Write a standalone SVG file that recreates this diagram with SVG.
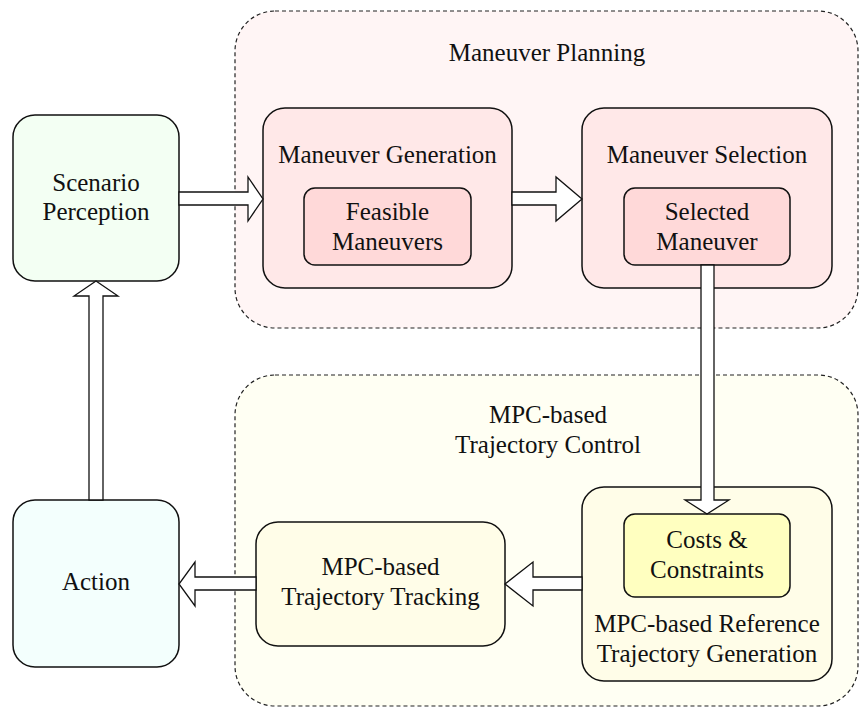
<svg xmlns="http://www.w3.org/2000/svg" width="860" height="708" viewBox="0 0 860 708" font-family="Liberation Serif, serif">
<style>
text{font-family:"Liberation Serif","Times New Roman",serif;font-size:25px;fill:#111;text-anchor:middle}
.grp{stroke:#222;stroke-width:1.2;stroke-dasharray:4,3}
.box{stroke:#111;stroke-width:1.5}
.arr{fill:#fff;stroke:#111;stroke-width:1.3;stroke-linejoin:miter}
</style>
<rect width="860" height="708" fill="#fff"/>
<g id="maneuver-planning">
<rect class="grp" x="235" y="11" width="623" height="317" rx="40" fill="#fff5f5"/>
<text x="547" y="61">Maneuver Planning</text>
</g>
<g id="mpc-control">
<rect class="grp" x="235" y="375" width="623" height="331" rx="40" fill="#fffff3"/>
<text x="548" y="423">MPC-based</text>
<text x="548" y="453">Trajectory Control</text>
</g>
<g id="scenario-perception">
<rect class="box" x="13" y="115" width="166" height="166" rx="22" fill="#f3fff3"/>
<text x="96" y="191">Scenario</text>
<text x="96" y="220">Perception</text>
</g>
<g id="maneuver-generation">
<rect class="box" x="263" y="108" width="249" height="180" rx="22" fill="#ffe8e8"/>
<text x="387.5" y="163">Maneuver Generation</text>
</g>
<g id="feasible-maneuvers">
<rect class="box" x="304" y="188" width="167" height="77" rx="11" fill="#ffd9d9"/>
<text x="387.5" y="220">Feasible</text>
<text x="387.5" y="250">Maneuvers</text>
</g>
<g id="maneuver-selection">
<rect class="box" x="582" y="108" width="250" height="180" rx="22" fill="#ffe8e8"/>
<text x="707" y="163">Maneuver Selection</text>
</g>
<g id="selected-maneuver">
<rect class="box" x="624" y="188" width="166" height="77" rx="11" fill="#ffd9d9"/>
<text x="707" y="220">Selected</text>
<text x="707" y="250">Maneuver</text>
</g>
<g id="mpc-reference">
<rect class="box" x="582" y="487" width="250" height="194" rx="22" fill="#fffde8"/>
<text x="707" y="632">MPC-based Reference</text>
<text x="707" y="662">Trajectory Generation</text>
</g>
<g id="costs-constraints">
<rect class="box" x="624" y="514" width="166" height="83" rx="11" fill="#ffffc0"/>
<text x="707" y="548">Costs &amp;</text>
<text x="707" y="578">Constraints</text>
</g>
<g id="mpc-tracking">
<rect class="box" x="256" y="522" width="249" height="124" rx="22" fill="#fffde8"/>
<text x="380.5" y="575">MPC-based</text>
<text x="380.5" y="605">Trajectory Tracking</text>
</g>
<g id="action">
<rect class="box" x="13" y="500" width="166" height="167" rx="22" fill="#f3fffd"/>
<text x="96" y="590">Action</text>
</g>
<g id="connectors">
<path class="arr" d="M179,192 H248 V177 L263,199 L248,221 V205 H179 Z"/>
<path class="arr" d="M512,192 H556 V177 L582,199 L556,221 V205 H512 Z"/>
<path class="arr" d="M701,265 V500 H685 L707,514 L729,500 H714 V265 Z"/>
<path class="arr" d="M582,577 H533 V562 L505,584 L533,606 V590 H582 Z"/>
<path class="arr" d="M256,577 H195 V562 L179,584 L195,606 V590 H256 Z"/>
<path class="arr" d="M89,500 V296 H74 L96,281 L118,296 H103 V500 Z"/>
</g>
</svg>
